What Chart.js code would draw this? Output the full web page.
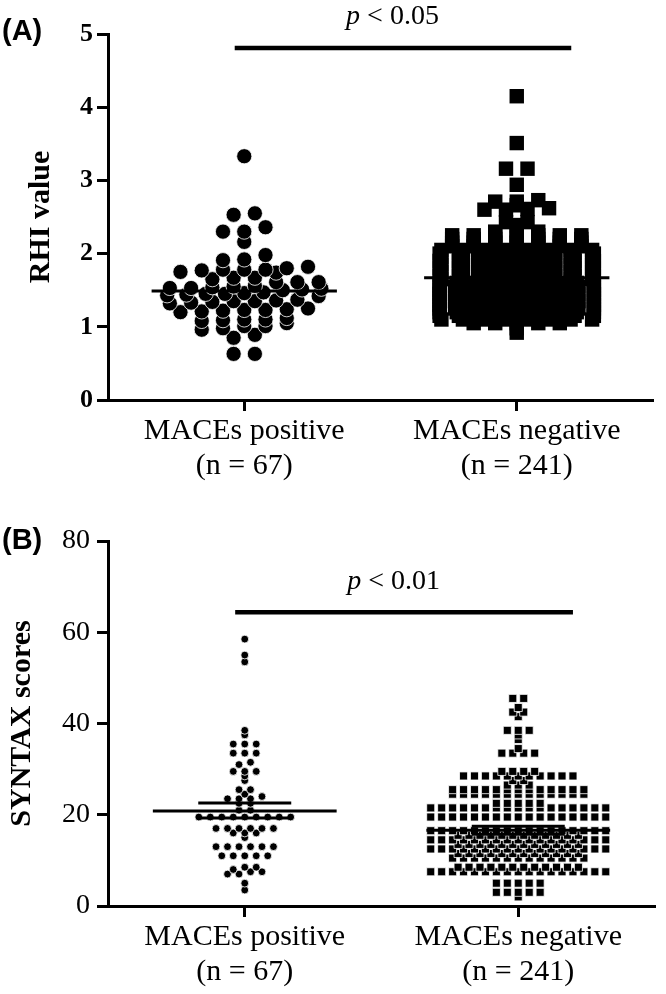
<!DOCTYPE html>
<html>
<head>
<meta charset="utf-8">
<script src="https://cdn.jsdelivr.net/npm/chart.js@4.4.1/dist/chart.umd.min.js"></script>
<style>
    body { margin: 0; background: #fff; }
    .panel { position: absolute; left: 0; width: 666px; }
</style>
</head>
<body>
<div class="panel" style="top:0;height:490px"><canvas id="rhiChart" width="666" height="490"></canvas></div>
<div class="panel" style="top:490px;height:504px"><canvas id="syntaxChart" width="666" height="504"></canvas></div>
<script>
const groupLabels = [["MACEs positive", "(n = 67)"], ["MACEs negative", "(n = 241)"]];

// RHI values
const rhiPositive = [
    3.33, 2.55, 2.53, 2.36, 2.30, 2.30, 2.16, 1.98, 1.92, 1.91,
    1.82, 1.80, 1.78, 1.78, 1.78, 1.77, 1.75, 1.74,
    1.67, 1.67, 1.65, 1.61, 1.61, 1.61,
    1.56, 1.55, 1.54, 1.53, 1.53, 1.52, 1.51, 1.50,
    1.47, 1.46, 1.45, 1.45, 1.44, 1.43, 1.42,
    1.37, 1.36, 1.35, 1.35, 1.34, 1.33, 1.32,
    1.25, 1.24, 1.23, 1.23, 1.22, 1.21, 1.20,
    1.12, 1.10, 1.10, 1.09, 1.08, 1.05,
    1.01, 1.01, 0.98, 0.96, 0.89, 0.85, 0.63, 0.63
];
// [value, how many points]
const rhiNegativeRows = [
    [4.15, 1], [3.51, 1], [3.16, 2], [2.94, 1], [2.73, 1], [2.71, 2], [2.66, 1],
    [2.62, 1], [2.61, 1], [2.60, 2], [2.43, 2], [2.39, 1], [2.30, 3],
    [2.25, 7], [2.20, 7], [2.15, 7], [2.10, 7], [2.05, 8],
    [2.00, 9], [1.95, 8], [1.90, 9], [1.85, 8], [1.80, 9], [1.75, 8], [1.70, 9], [1.65, 8],
    [1.60, 10], [1.55, 11], [1.50, 10], [1.45, 11], [1.40, 10], [1.35, 11], [1.30, 10],
    [1.25, 11], [1.20, 10], [1.15, 9], [1.10, 8], [1.05, 5], [0.98, 1], [0.92, 1]
];
const rhiMeans = [1.49, 1.67];
const rhiTicks = [0, 1, 2, 3, 4, 5];

// SYNTAX scores
const syntaxPositive = [
    58.5, 55, 53.5, 38.5, 37.5, 35.5, 35.5, 35.5, 33.5, 33.5, 33.5,
    31.5, 31, 29.5, 29.5, 29.5, 28.5, 27.5, 25.5, 25.5, 24.5, 24,
    23.5, 23.5, 23.5, 22.5, 22.5, 21, 21,
    19.5, 19.5, 19.5, 19.5, 19.5, 19.5, 19.5, 19.5, 19.5,
    17, 17, 17, 17, 17, 17, 16, 16, 16, 15,
    13, 13, 13, 13, 13, 13, 11, 11, 11, 11, 11,
    8.5, 8.5, 8, 7.5, 7.5, 7, 7, 5, 3.5
];
const syntaxNegativeRows = [
    [45.5, 2], [43.5, 1], [42.5, 2], [41.5, 1], [38.5, 3], [37.5, 1], [36.5, 1],
    [34.5, 1], [33.5, 4], [29.5, 4], [28.5, 11], [27.5, 2], [26.5, 3],
    [25.5, 13], [24.5, 13], [22.5, 5], [21.5, 17], [19.5, 17],
    [16.5, 17], [15.5, 12], [14.5, 17], [13.5, 12], [12.5, 17], [11.5, 12], [10.5, 13],
    [8.5, 12], [7.5, 17], [5, 5], [3, 5], [2, 1]
];
const syntaxMeans = [20.8, 16.6];
const syntaxSem = [[19.3, 22.6], [15.7, 17.5]];
const syntaxTicks = [0, 20, 40, 60, 80];

const pValues = ["0.05", "0.01"];
const pBarLevels = [4.81, 64.4];

function expandRows(rows) {
    return rows.flatMap(([value, count]) => Array(count).fill(value));
}

// Prism-like scatter dot layout: rows of close values spread side by side
function swarm(values, center, binSize, step, maxHalf) {
    const sorted = [...values].sort((a, b) => a - b);
    const rows = [];
    sorted.forEach((v) => {
        const row = rows[rows.length - 1];
        if (row && v - row[0] < binSize) row.push(v);
        else rows.push([v]);
    });
    const points = [];
    rows.forEach((row) => {
        const n = row.length;
        const s = n > 1 ? Math.min(step, (2 * maxHalf) / (n - 1)) : 0;
        row.forEach((v, i) => points.push({ x: center + (i - (n - 1) / 2) * s, y: v }));
    });
    return points;
}

function hLine(y, x0, x1, width) {
    return {
        data: [{ x: x0, y }, { x: x1, y }],
        showLine: true,
        borderColor: "#000",
        borderWidth: width,
        pointRadius: 0,
        order: 0,
    };
}

const panelText = {
    id: "panelText",
    afterDraw(chart, args, opts) {
        const { ctx } = chart;
        const { x, y } = chart.scales;
        ctx.save();
        ctx.fillStyle = "#000";
        ctx.textBaseline = "middle";
        ctx.textAlign = "left";
        ctx.font = "bold 29px 'Liberation Sans'";
        ctx.fillText(opts.letter, 2, opts.letterY);

        const px = x.getPixelForValue(opts.pX);
        const py = y.getPixelForValue(opts.pY) - 31;
        const rest = " < " + opts.pValue;
        ctx.font = "italic 28px 'Liberation Serif'";
        const w1 = ctx.measureText("p").width;
        ctx.font = "28px 'Liberation Serif'";
        const w2 = ctx.measureText(rest).width;
        const left = px - (w1 + w2) / 2;
        ctx.font = "italic 28px 'Liberation Serif'";
        ctx.fillText("p", left, py);
        ctx.font = "28px 'Liberation Serif'";
        ctx.fillText(rest, left + w1, py);
        ctx.restore();
    }
};

function makePanel(canvasId, cfg) {
    const datasets = [
        ...cfg.lines,
        {
            data: cfg.positive,
            pointStyle: "circle",
            pointRadius: cfg.circleRadius,
            pointBackgroundColor: "#000",
            pointBorderColor: "#fff",
            pointBorderWidth: cfg.circleBorder,
            order: 1,
        },
        {
            data: cfg.negative,
            pointStyle: "rect",
            pointRadius: cfg.rectRadius,
            pointBackgroundColor: "#000",
            pointBorderColor: "#fff",
            pointBorderWidth: cfg.rectBorder,
            order: 1,
        },
    ];

    return new Chart(document.getElementById(canvasId), {
        type: "scatter",
        data: { datasets },
        plugins: [panelText],
        options: {
            responsive: false,
            animation: false,
            layout: { padding: { top: cfg.top, right: cfg.right, left: 0, bottom: 0 } },
            plugins: {
                legend: { display: false },
                tooltip: { enabled: false },
                panelText: cfg.text,
            },
            scales: {
                x: {
                    type: "linear",
                    min: 0.5,
                    max: 2.5,
                    afterBuildTicks: (scale) => { scale.ticks = [1, 2].map((v) => ({ value: v })); },
                    afterFit: (scale) => { scale.height = cfg.xHeight; },
                    border: { display: true, color: "#000", width: 3 },
                    grid: { drawOnChartArea: false, drawTicks: true, tickLength: 11, tickWidth: 3, tickColor: "#000" },
                    ticks: {
                        autoSkip: false,
                        maxRotation: 0,
                        padding: 2.5,
                        color: "#000",
                        font: { family: "'Liberation Serif'", size: 30, lineHeight: 1.17 },
                        callback: (v) => groupLabels[v - 1],
                    },
                },
                y: {
                    min: cfg.yTicks[0],
                    max: cfg.yTicks[cfg.yTicks.length - 1],
                    afterBuildTicks: (scale) => { scale.ticks = cfg.yTicks.map((v) => ({ value: v })); },
                    afterFit: (scale) => { scale.width = 108; },
                    border: { display: true, color: "#000", width: 3 },
                    grid: { drawOnChartArea: false, drawTicks: true, tickLength: 11, tickWidth: 3, tickColor: "#000" },
                    ticks: {
                        padding: cfg.yTickPadding,
                        color: "#000",
                        font: cfg.yTickFont,
                    },
                    title: {
                        display: true,
                        text: cfg.yTitle,
                        color: "#000",
                        padding: { top: cfg.titlePad, bottom: 0 },
                        font: { family: "'Liberation Serif'", size: 30, weight: "bold" },
                    },
                },
            },
        },
    });
}

makePanel("rhiChart", {
    positive: swarm(rhiPositive, 1, 0.1, 0.078, 0.283),
    negative: swarm(expandRows(rhiNegativeRows), 2, 0.04, 0.079, 0.283),
    circleRadius: 7.6,
    circleBorder: 0.8,
    rectRadius: 10.2,
    rectBorder: 0,
    lines: [
        hLine(rhiMeans[0], 0.66, 1.34, 3),
        hLine(rhiMeans[1], 1.66, 2.34, 3),
        hLine(pBarLevels[0], 0.965, 2.2, 4.5),
    ],
    yTicks: rhiTicks,
    yTitle: "RHI value",
    titlePad: 23,
    yTickPadding: 4,
    yTickFont: { family: "'Liberation Serif'", size: 26, weight: "bold" },
    top: 34,
    right: 13,
    xHeight: 90,
    text: { letter: "(A)", letterY: 32, pX: 1.544, pY: pBarLevels[0], pValue: pValues[0] },
});

makePanel("syntaxChart", {
    positive: swarm(syntaxPositive, 1, 0.9, 0.042, 0.2),
    negative: swarm(expandRows(syntaxNegativeRows), 2, 0.9, 0.040, 0.322),
    circleRadius: 3.9,
    circleBorder: 0.8,
    rectRadius: 5.7,
    rectBorder: 0.8,
    lines: [
        hLine(syntaxMeans[0], 0.664, 1.336, 3),
        hLine(syntaxSem[0][0], 0.83, 1.17, 3),
        hLine(syntaxSem[0][1], 0.83, 1.17, 3),
        hLine(syntaxMeans[1], 1.664, 2.336, 3),
        hLine(syntaxSem[1][0], 1.83, 2.17, 3),
        hLine(syntaxSem[1][1], 1.83, 2.17, 3),
        hLine(pBarLevels[1], 0.965, 2.2, 4.5),
    ],
    yTicks: syntaxTicks,
    yTitle: "SYNTAX scores",
    titlePad: 4,
    yTickPadding: 7,
    yTickFont: { family: "'Liberation Serif'", size: 28 },
    top: 51,
    right: 11,
    xHeight: 88,
    text: { letter: "(B)", letterY: 51, pX: 1.544, pY: pBarLevels[1], pValue: pValues[1] },
});
</script>
</body>
</html>
